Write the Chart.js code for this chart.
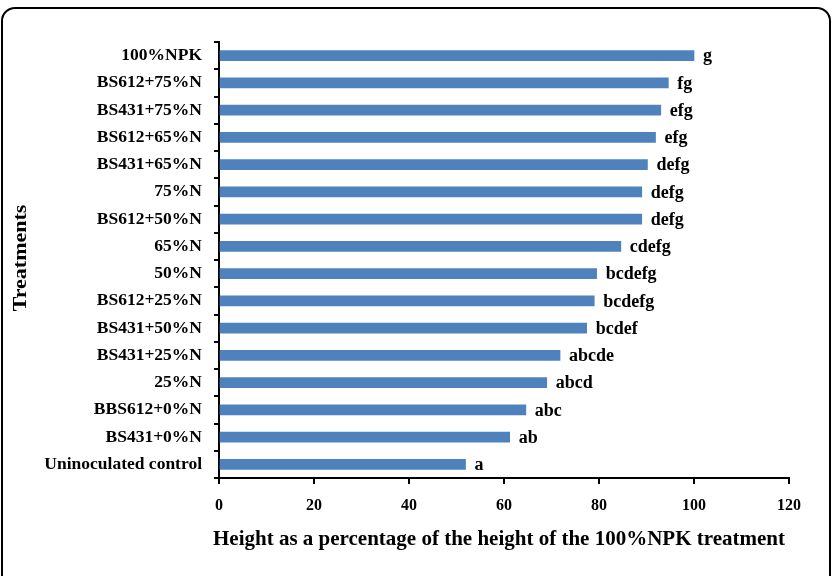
<!DOCTYPE html>
<html>
<head>
<meta charset="utf-8">
<script src="https://cdn.jsdelivr.net/npm/chart.js@4"></script>
<style>
    body { margin: 0; background: #fff; }
    #wrap { position: relative; width: 837px; height: 576px; overflow: hidden; }
    #frame {
        position: absolute; left: 1px; top: 7px; width: 830px; height: 590px;
        box-sizing: border-box; border: 2px solid #000; border-radius: 14px;
    }
    #chart { position: absolute; left: 0; top: 0; }
</style>
</head>
<body>
<div id="wrap">
    <div id="frame"></div>
    <canvas id="chart" width="837" height="576"></canvas>
</div>
<script>
// treatments, top to bottom
const treatments = [
    '100%NPK', 'BS612+75%N', 'BS431+75%N', 'BS612+65%N', 'BS431+65%N',
    '75%N', 'BS612+50%N', '65%N', '50%N', 'BS612+25%N', 'BS431+50%N',
    'BS431+25%N', '25%N', 'BBS612+0%N', 'BS431+0%N', 'Uninoculated control'
];
const heightPct = [100, 94.6, 93, 91.9, 90.2, 89, 89, 84.6, 79.5, 79, 77.4, 71.8, 69, 64.6, 61.2, 51.9];
const groupLetters = [
    'g', 'fg', 'efg', 'efg', 'defg', 'defg', 'defg', 'cdefg', 'bcdefg',
    'bcdefg', 'bcdef', 'abcde', 'abcd', 'abc', 'ab', 'a'
];
const xTicks = [0, 20, 40, 60, 80, 100, 120];

const xTitle = 'Height as a percentage of the height of the 100%NPK treatment';
const yTitle = 'Treatments';

const serif = '"Liberation Serif", "Times New Roman", serif';

const PLOT_LEFT = 219, PLOT_TOP = 42, PLOT_RIGHT = 789, PLOT_BOTTOM = 478;

const labelsPlugin = {
    id: 'labelsPlugin',
    afterDatasetsDraw(chart) {
        const ctx = chart.ctx;
        const meta = chart.getDatasetMeta(0);
        ctx.save();
        ctx.font = 'bold 18px ' + serif;
        ctx.fillStyle = '#000';
        ctx.textAlign = 'left';
        ctx.textBaseline = 'middle';
        meta.data.forEach((bar, i) => {
            ctx.fillText(groupLetters[i], bar.x + 9, bar.y + 1);
        });
        ctx.restore();
    },
    afterDraw(chart) {
        const ctx = chart.ctx;
        const area = chart.chartArea;
        ctx.save();
        ctx.fillStyle = '#000';
        ctx.textAlign = 'center';
        ctx.textBaseline = 'middle';

        ctx.font = 'bold 21px ' + serif;
        ctx.fillText(xTitle, 499, 540);

        ctx.font = 'bold 22px ' + serif;
        ctx.translate(21, (area.top + area.bottom) / 2 - 2);
        ctx.scale(0.9, 1);
        ctx.rotate(-Math.PI / 2);
        ctx.fillText(yTitle, 0, 0);
        ctx.restore();
    }
};

new Chart(document.getElementById('chart'), {
    type: 'bar',
    data: {
        labels: treatments,
        datasets: [{
            data: heightPct,
            backgroundColor: '#4F81BD',
            borderWidth: 0,
            barThickness: 10
        }]
    },
    options: {
        indexAxis: 'y',
        responsive: false,
        animation: false,
        layout: { padding: { left: 0, top: PLOT_TOP, right: 837 - PLOT_RIGHT, bottom: 0 } },
        plugins: {
            legend: { display: false },
            tooltip: { enabled: false }
        },
        scales: {
            x: {
                min: 0,
                max: 120,
                afterFit: scale => { scale.height = 576 - PLOT_BOTTOM; },
                afterBuildTicks: scale => { scale.ticks = xTicks.map(v => ({ value: v })); },
                grid: { drawOnChartArea: false, drawTicks: true, tickLength: 6, color: '#000', lineWidth: 2 },
                border: { color: '#000', width: 2 },
                ticks: { color: '#000', padding: 12, font: { family: serif, size: 16, weight: 'bold' } }
            },
            y: {
                afterFit: scale => { scale.width = PLOT_LEFT; },
                grid: { offset: true, drawOnChartArea: false, drawTicks: true, tickLength: 5, color: '#000', lineWidth: 2 },
                border: { color: '#000', width: 2 },
                ticks: { color: '#000', padding: 12, font: { family: serif, size: 17.5, weight: 'bold' } }
            }
        }
    },
    plugins: [labelsPlugin]
});
</script>
</body>
</html>
